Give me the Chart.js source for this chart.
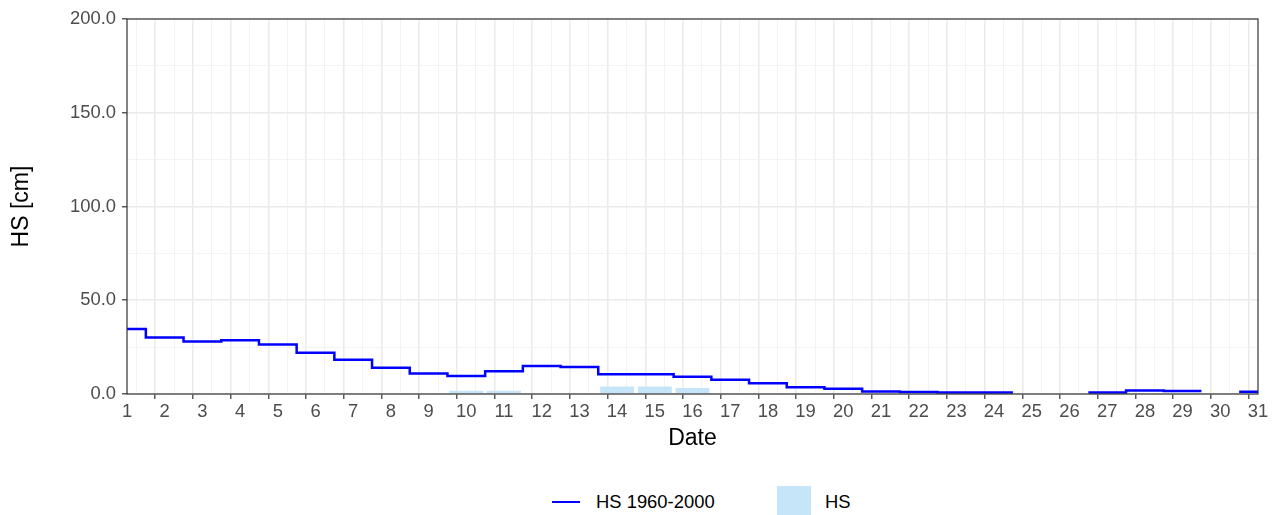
<!DOCTYPE html>
<html lang="en">
<head>
  <meta charset="UTF-8">
  <title>HS</title>
  <script src="https://cdn.jsdelivr.net/npm/chart.js"></script>
  <style>
    body {
      margin: 0;
      background: #fff;
      font-family: "Liberation Sans", Arial, sans-serif;
    }
    .wrap {
      position: relative;
      width: 1275px;
      height: 515px;
      overflow: hidden;
    }
    #myChart {
      position: absolute;
      left: 0;
      top: 0;
    }
    .legend {
      position: absolute;
      top: 486px;
      left: 0;
      width: 1275px;
      height: 40px;
      font-size: 18.4px;
      color: #000;
    }
    .legend .line {
      position: absolute;
      left: 552px;
      top: 15px;
      width: 28px;
      height: 2px;
      background: #0000ff;
    }
    .legend .box {
      position: absolute;
      left: 777px;
      top: 0;
      width: 34px;
      height: 34px;
      background: #c6e5f9;
    }
    .legend span.t {
      position: absolute;
      top: 5px;
    }
  </style>
</head>
<body>
  <div class="wrap">
    <canvas id="myChart" width="1275" height="461"></canvas>
    <div class="legend">
      <div class="line"></div>
      <span class="t" style="left:596px">HS 1960-2000</span>
      <div class="box"></div>
      <span class="t" style="left:825px">HS</span>
    </div>
  </div>

  <script>
    // days of the month
    const days = [1, 2, 3, 4, 5, 6, 7, 8, 9, 10, 11, 12, 13, 14, 15, 16,
                  17, 18, 19, 20, 21, 22, 23, 24, 25, 26, 27, 28, 29, 30, 31];
    // mean snow height 1960-2000 (cm)
    const hsMean = [34.7, 30.2, 28.0, 28.7, 26.4, 22.0, 18.3, 14.0, 11.0, 9.6,
                    12.1, 14.9, 14.4, 10.6, 10.5, 9.2, 7.6, 5.7, 3.6, 2.8,
                    1.4, 1.1, 0.8, 0.8, null, null, 0.8, 1.9, 1.6, null, 1.2];
    // observed snow height (cm)
    const hs = [null, null, null, null, null, null, null, null, null, 1.7,
                1.7, null, null, 4.0, 4.0, 3.2, null, null, null, null,
                null, null, null, null, null, null, null, null, null, null, null];
    const yTicks = [0, 50, 100, 150, 200];

    const xMin = days[0];
    const xMax = days[days.length - 1];

    // step line centred on each day
    const stepPoints = [];
    days.forEach((d, i) => {
      const v = hsMean[i];
      if (v === null) {
        stepPoints.push({ x: d, y: null });
      } else {
        stepPoints.push({ x: Math.max(xMin, d - 0.5), y: v });
        stepPoints.push({ x: Math.min(xMax, d + 0.5), y: v });
      }
    });

    const barPoints = [];
    days.forEach((d, i) => {
      if (hs[i] !== null) barPoints.push({ x: d, y: hs[i] });
    });

    const panelBorder = {
      id: 'panelBorder',
      afterDraw(chart) {
        const a = chart.chartArea;
        const c = chart.ctx;
        c.save();
        c.strokeStyle = '#333333';
        c.lineWidth = 1.2;
        c.strokeRect(a.left, a.top, a.right - a.left, a.bottom - a.top);
        c.restore();
      }
    };

    const tickFont = { family: '"Liberation Sans", Arial, sans-serif', size: 18.4 };
    const titleFont = { family: '"Liberation Sans", Arial, sans-serif', size: 23 };

    const ctx = document.getElementById('myChart').getContext('2d');
    const myChart = new Chart(ctx, {
      type: 'line',
      data: {
        datasets: [
          {
            type: 'bar',
            label: 'HS',
            data: barPoints,
            backgroundColor: '#c6e5f9',
            borderWidth: 0,
            // ticks sit every half day, so 1.8 of that = 0.9 of a day
            barPercentage: 1.8,
            categoryPercentage: 1.0,
            order: 2
          },
          {
            type: 'line',
            label: 'HS 1960-2000',
            data: stepPoints,
            borderColor: '#0000ff',
            borderWidth: 2.5,
            pointRadius: 0,
            tension: 0,
            spanGaps: false,
            fill: false,
            order: 1
          }
        ]
      },
      options: {
        responsive: false,
        animation: false,
        layout: { padding: { top: 19, right: 17, left: 0, bottom: 0 } },
        plugins: {
          legend: { display: false },
          tooltip: { enabled: false }
        },
        scales: {
          x: {
            type: 'linear',
            min: xMin,
            max: xMax,
            offset: false,
            afterFit: (s) => { s.height = 67; },
            afterBuildTicks: (s) => {
              const t = [];
              for (let v = xMin; v <= xMax + 0.001; v += 0.5) t.push({ value: v });
              s.ticks = t;
            },
            ticks: {
              autoSkip: false,
              maxRotation: 0,
              padding: 2,
              color: '#4d4d4d',
              font: tickFont,
              callback: (v) => (Number.isInteger(v) ? String(v) : '')
            },
            grid: {
              tickLength: 5,
              color: (c) => (c.tick && Number.isInteger(c.tick.value) ? '#ebebeb' : '#f2f2f2'),
              lineWidth: (c) => (c.tick && Number.isInteger(c.tick.value) ? 1.6 : 0.9),
              tickColor: (c) => (c.tick && Number.isInteger(c.tick.value) ? '#333333' : 'rgba(0,0,0,0)'),
              tickWidth: 1.2
            },
            border: { display: false },
            title: {
              display: true,
              text: 'Date',
              color: '#000',
              font: titleFont,
              padding: { top: 4, bottom: 9 }
            }
          },
          y: {
            min: 0,
            max: 200,
            afterFit: (s) => { s.width = 127; },
            afterBuildTicks: (s) => {
              const t = [];
              for (let v = 0; v <= 200; v += 25) t.push({ value: v });
              s.ticks = t;
            },
            ticks: {
              padding: 6,
              color: '#4d4d4d',
              font: tickFont,
              callback: (v) => (yTicks.includes(v) ? v.toFixed(1) : '')
            },
            grid: {
              tickLength: 5,
              color: (c) => (c.tick && yTicks.includes(c.tick.value) ? '#ebebeb' : '#f2f2f2'),
              lineWidth: (c) => (c.tick && yTicks.includes(c.tick.value) ? 1.6 : 0.9),
              tickColor: (c) => (c.tick && yTicks.includes(c.tick.value) ? '#333333' : 'rgba(0,0,0,0)'),
              tickWidth: 1.2
            },
            border: { display: false },
            title: {
              display: true,
              text: 'HS [cm]',
              color: '#000',
              font: titleFont,
              padding: { top: 8, bottom: 4 }
            }
          }
        }
      },
      plugins: [panelBorder]
    });
  </script>
</body>
</html>
